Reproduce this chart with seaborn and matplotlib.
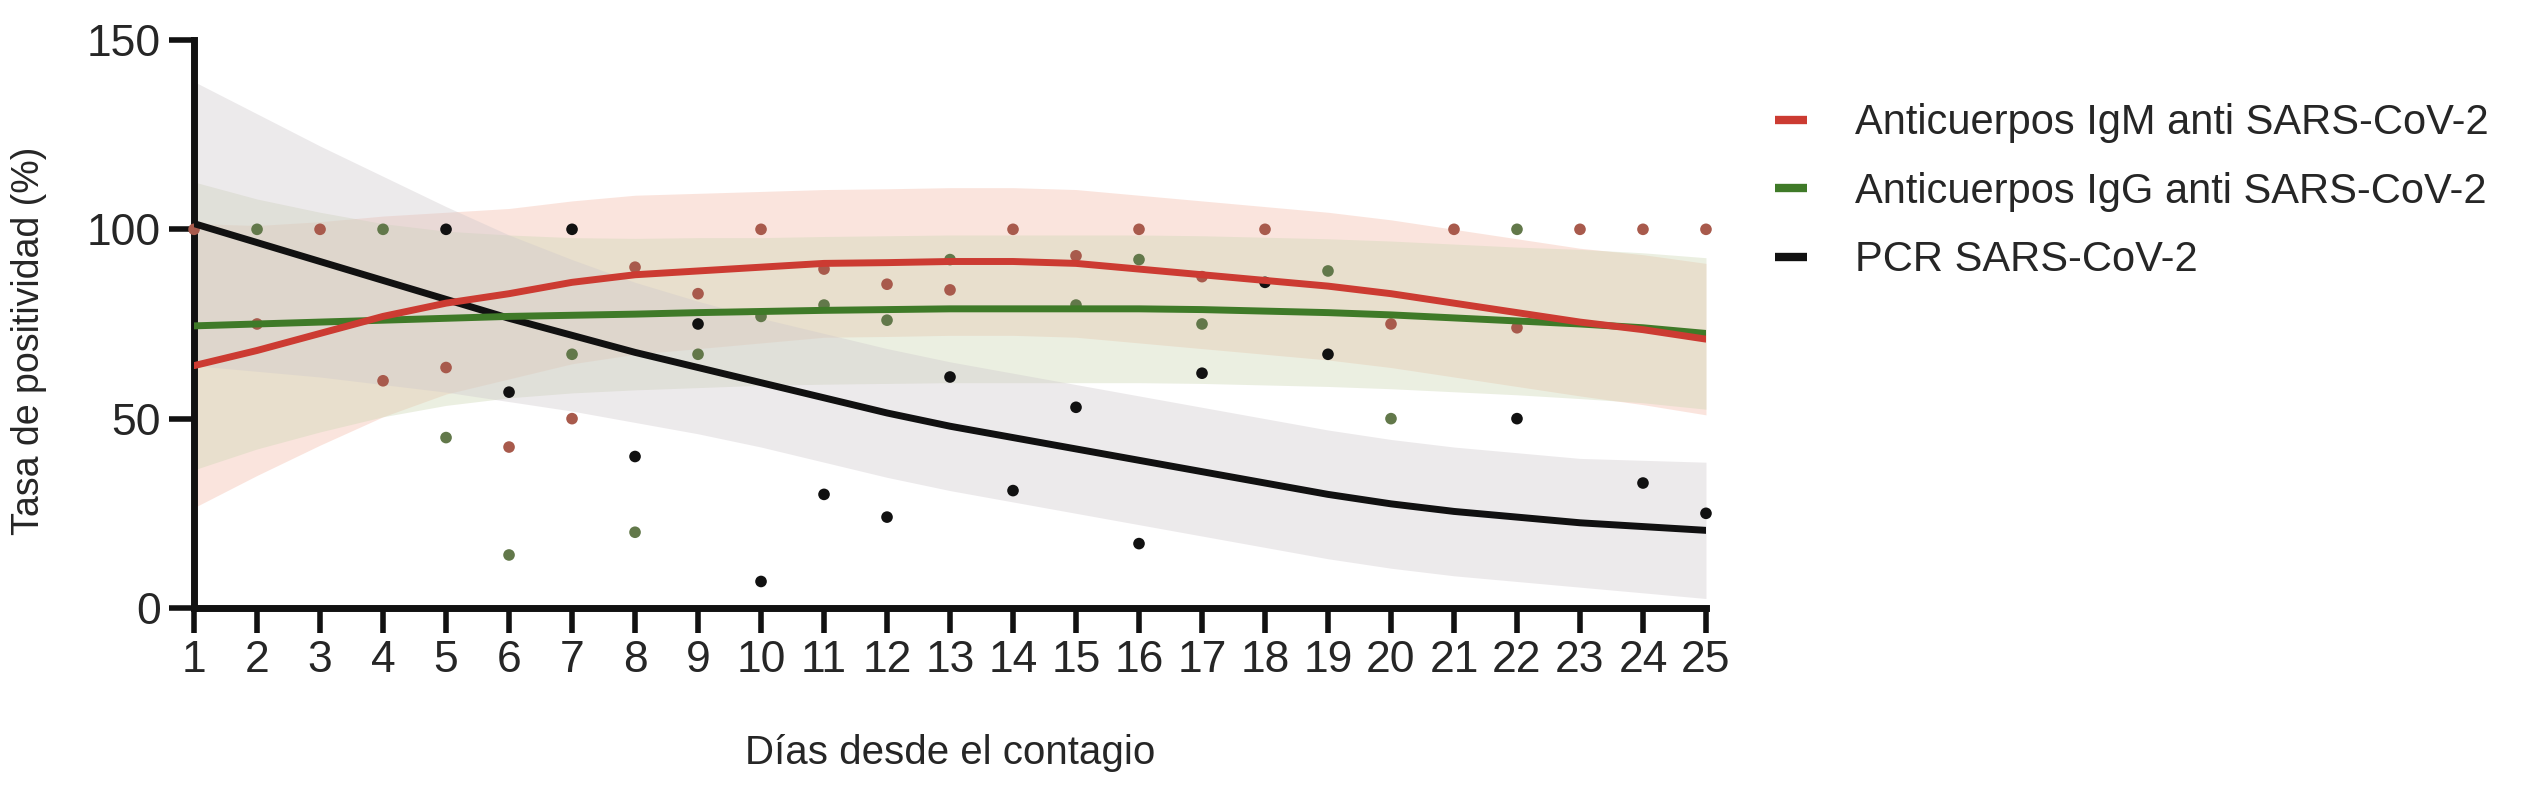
import matplotlib
matplotlib.use("Agg")
import matplotlib.pyplot as plt
from matplotlib import font_manager
from matplotlib.lines import Line2D
import seaborn as sns
import pandas as pd

# ---------------- data ----------------
days = list(range(1, 26))
xticks = list(range(1, 26))
yticks = [0, 50, 100, 150]

series_names = ["Anticuerpos IgM anti SARS-CoV-2",
                "Anticuerpos IgG anti SARS-CoV-2",
                "PCR SARS-CoV-2"]

# observed points
igm_days = [1, 2, 3, 4, 5, 6, 7, 8, 9, 10, 11, 12, 13, 14, 15, 16, 17, 18, 20, 21, 22, 23, 24, 25]
igm_vals = [100, 75, 100, 60, 63.5, 42.5, 50, 90, 83, 100, 89.5, 85.5, 84, 100, 93, 100, 87.5, 100, 75, 100, 74, 100, 100, 100]

igg_days = [2, 4, 5, 6, 7, 8, 9, 10, 11, 12, 13, 15, 16, 17, 19, 20, 22]
igg_vals = [100, 100, 45, 14, 67, 20, 67, 77, 80, 76, 92, 80, 92, 75, 89, 50, 100]

pcr_days = [5, 6, 7, 8, 9, 10, 11, 12, 13, 14, 15, 16, 17, 18, 19, 22, 24, 25]
pcr_vals = [100, 57, 100, 40, 75, 7, 30, 24, 61, 31, 53, 17, 62, 86, 67, 50, 33, 25]

# fitted curves and their confidence bands
igm_fit = [64, 68, 72.5, 77, 80.5, 83, 86, 88, 89, 90, 91, 91.2, 91.5, 91.5, 91, 89.5, 88, 86.5, 85, 83, 80.5, 78, 75.5, 73.5, 71]
igm_up = [101.5, 101, 102, 103.5, 104.5, 105.5, 107.5, 109, 109.5, 110, 110.5, 110.7, 111, 111, 110.5, 109, 107.5, 106, 104.5, 102.5, 100, 97.5, 95, 93.3, 91]
igm_lo = [26.5, 35, 43, 50.5, 56.5, 60.5, 64.5, 67, 68.5, 70, 71.5, 71.7, 72, 72, 71.5, 70, 68.5, 67, 65.5, 63.5, 61, 58.5, 56, 53.7, 51]

igg_fit = [74.5, 75, 75.5, 76, 76.5, 77, 77.3, 77.6, 78, 78.3, 78.6, 78.8, 79, 79, 79, 79, 78.8, 78.4, 78, 77.4, 76.6, 75.8, 75, 74, 72.5]
igg_up = [112.5, 108, 104.5, 101.5, 99.5, 98.5, 97.8, 97.6, 97.8, 97.8, 98.1, 98.3, 98.5, 98.5, 98.5, 98.5, 98.3, 97.9, 97.5, 96.9, 96.1, 95.3, 94.7, 93.8, 92.5]
igg_lo = [36.5, 42, 46.5, 50.5, 53.5, 55.5, 56.8, 57.6, 58.2, 58.8, 59.1, 59.3, 59.5, 59.5, 59.5, 59.5, 59.3, 58.9, 58.5, 57.9, 57.1, 56.3, 55.3, 54.2, 52.5]

pcr_fit = [101.5, 96.5, 91.5, 86.5, 81.5, 76.5, 72, 67.5, 63.5, 59.5, 55.5, 51.5, 48, 45, 42, 39, 36, 33, 30, 27.5, 25.5, 24, 22.5, 21.5, 20.5]
pcr_up = [139, 130.5, 122, 114, 106, 98.5, 92, 86, 81, 76.5, 72.5, 68.5, 65, 62, 59, 56, 53, 50, 47, 44.5, 42.5, 41, 39.5, 39, 38.5]
pcr_lo = [64, 62.5, 61, 59, 57, 54.5, 52, 49, 46, 42.5, 38.5, 34.5, 31, 28, 25, 22, 19, 16, 13, 10.5, 8.5, 7, 5.5, 4, 2.5]

# ---------------- styling ----------------
line_colors = {series_names[0]: "#cc3b32", series_names[1]: "#3f7a28", series_names[2]: "#111111"}
dot_colors = {series_names[0]: "#a85a4c", series_names[1]: "#62784a", series_names[2]: "#111111"}
band_colors = ["#f6c4b4", "#ced8b5", "#cfc8cc"]
band_alpha = [0.45, 0.40, 0.38]

sns.set_theme(style="ticks")


def pick(fams):
    for f in fams:
        try:
            font_manager.findfont(f, fallback_to_default=False)
            return f
        except Exception:
            pass
    return "DejaVu Sans"


main_font = pick(["Liberation Sans", "Arimo", "DejaVu Sans"])
plt.rcParams["font.family"] = [main_font, "DejaVu Sans"]

points = pd.concat([
    pd.DataFrame({"dia": igm_days, "valor": igm_vals, "serie": series_names[0]}),
    pd.DataFrame({"dia": igg_days, "valor": igg_vals, "serie": series_names[1]}),
    pd.DataFrame({"dia": pcr_days, "valor": pcr_vals, "serie": series_names[2]}),
], ignore_index=True)

fits = pd.concat([
    pd.DataFrame({"dia": days, "ajuste": igm_fit, "lo": igm_lo, "up": igm_up, "serie": series_names[0]}),
    pd.DataFrame({"dia": days, "ajuste": igg_fit, "lo": igg_lo, "up": igg_up, "serie": series_names[1]}),
    pd.DataFrame({"dia": days, "ajuste": pcr_fit, "lo": pcr_lo, "up": pcr_up, "serie": series_names[2]}),
], ignore_index=True)

fig = plt.figure(figsize=(25.3, 7.9), dpi=100)
ax = fig.add_axes([0.0767, 0.2304, 0.5976, 0.719])

# confidence bands
for i, name in enumerate(series_names):
    sub = fits[fits["serie"] == name]
    ax.fill_between(sub["dia"], sub["lo"], sub["up"], color=band_colors[i],
                    alpha=band_alpha[i], linewidth=0, zorder=1)

# observed points
sns.scatterplot(data=points, x="dia", y="valor", hue="serie", palette=dot_colors,
                s=70, edgecolor="none", legend=False, ax=ax, zorder=3, clip_on=False)

# fitted curves (red drawn last, on top)
sns.lineplot(data=fits, x="dia", y="ajuste", hue="serie", palette=line_colors,
             hue_order=series_names[::-1], linewidth=5, legend=False, ax=ax,
             zorder=4, sort=True)

ax.set_xlim(1, 25)
ax.set_ylim(0, 150)
ax.set_xticks(xticks)
ax.set_yticks(yticks)
ax.set_xticklabels([str(t) for t in xticks], fontsize=32)
ax.set_yticklabels([str(t) for t in yticks], fontsize=32)
ax.tick_params(axis="both", which="major", length=18, width=4, color="#111111", direction="out")
ax.tick_params(axis="x", pad=5)
ax.tick_params(axis="y", pad=6)

sns.despine(ax=ax)
for side in ["left", "bottom"]:
    ax.spines[side].set_linewidth(5)
    ax.spines[side].set_color("#111111")
    ax.spines[side].set_capstyle("projecting")

ax.set_xlabel("Días desde el contagio", fontsize=29, labelpad=0)
ax.xaxis.set_label_coords(0.5, -0.222)
ax.set_ylabel("Tasa de positividad (%)", fontsize=27)
ax.yaxis.set_label_coords(-0.097, 0.47)

handles = [Line2D([0], [0], color=line_colors[n], linewidth=6, solid_capstyle="butt") for n in series_names]
fig.legend(handles, series_names, loc="upper left", bbox_to_anchor=(0.7015, 0.869),
           frameon=False, fontsize=30, handlelength=0.77, handletextpad=1.15,
           labelspacing=0.68, borderpad=0, borderaxespad=0)

fig.savefig("out.png", dpi=100, facecolor="white")
